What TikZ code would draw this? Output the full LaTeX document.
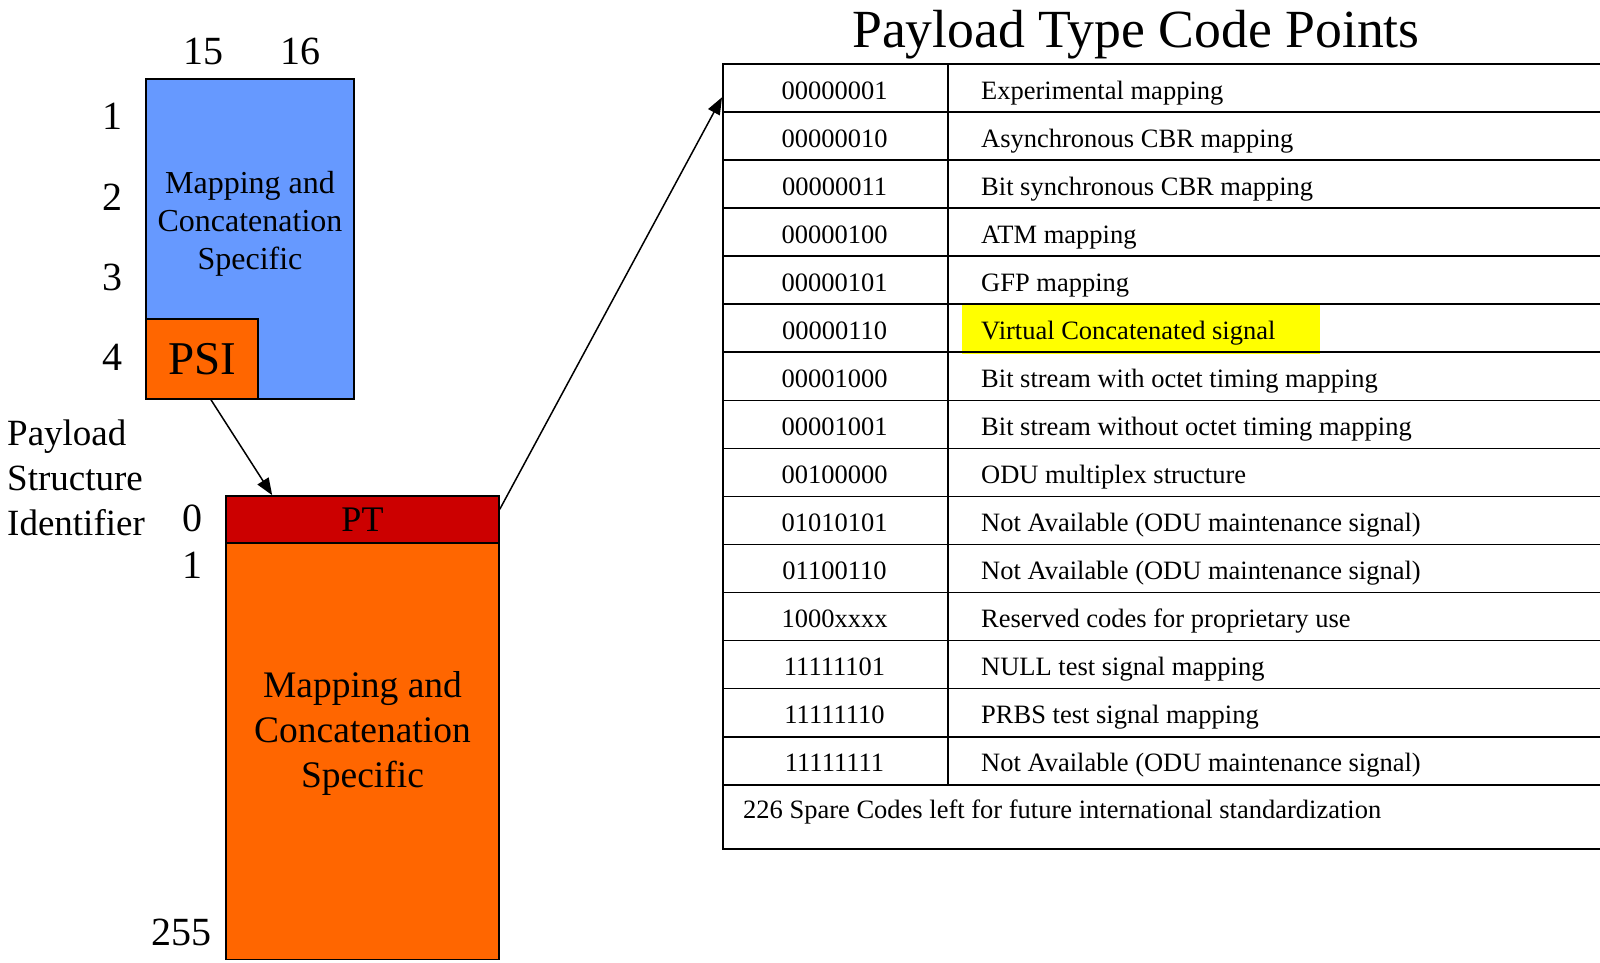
\documentclass[tikz,border=0pt]{standalone}
\usepackage{fontspec}
\setmainfont{Liberation Serif}
\usetikzlibrary{arrows.meta}
\definecolor{boxblue}{HTML}{6699FF}
\definecolor{boxorange}{HTML}{FF6600}
\definecolor{ptred}{HTML}{CC0000}
\definecolor{hlyellow}{HTML}{FFFF00}
\newcommand\myfs[2]{\fontsize{#1}{#2}\selectfont}
\begin{document}
\begin{tikzpicture}[x=1pt,y=-1pt,
  txt/.style={inner sep=0pt, text=black},
  box/.style={draw=black, line width=1.6pt, inner sep=0pt},
  cell/.style={draw=black, line width=1.8pt, inner sep=0pt, anchor=north west},
  num/.style={txt, anchor=base, font=\myfs{40}{48}},
  tab/.style={txt, font=\myfs{26.5}{32}},
  arr/.style={line width=1.5pt, -{Triangle[length=17pt,width=13pt]}}]
\useasboundingbox (0,0) rectangle (1600,963);
\clip (0,0) rectangle (1600,963);

% upper block
\node[box, fill=boxblue, minimum width=208pt, minimum height=320pt] (blue) at (250,239) {};
\node[txt, align=center, anchor=base, font=\myfs{32}{38}] (bluetxt) at (250,269) {Mapping and\\Concatenation\\Specific};
\node[box, fill=boxorange, minimum width=112pt, minimum height=80pt, font=\myfs{47}{56}] (psi) at (202,359) {PSI};

% lower block
\node[box, fill=ptred, minimum width=273pt, minimum height=47pt, font=\myfs{36}{43}] (pt) at (362.5,519.5) {PT};
\node[box, fill=boxorange, minimum width=273pt, minimum height=416.5pt] (body) at (362.5,751.25) {};
\node[txt, align=center, anchor=base, font=\myfs{37.5}{45}] (bodytxt) at (362.5,787.6) {Mapping and\\Concatenation\\Specific};

% numbers
\node[num] (n15) at (203,65) {15};
\node[num] (n16) at (300,65) {16};
\node[num] (r1) at (112,130) {1};
\node[num] (r2) at (112,210) {2};
\node[num] (r3) at (112,290) {3};
\node[num] (r4) at (112,370) {4};
\node[num] (b0) at (192,531) {0};
\node[num] (b1) at (192,578) {1};
\node[num] (b255) at (181,945) {255};

\node[txt, align=left, anchor=base west, font=\myfs{37}{45}] (psilabel) at (7,535) {Payload\\Structure\\Identifier};

% title
\node[txt, anchor=base, font=\myfs{53.7}{60}] (title) at (1136,48) {Payload Type Code Points};

% highlight
\node[fill=hlyellow, inner sep=0pt, minimum width=358pt, minimum height=50pt, anchor=north west] (hl) at (962,304) {};

% table
\foreach \c/\d [count=\i] in {00000001/Experimental mapping,
  00000010/Asynchronous CBR mapping,
  00000011/Bit synchronous CBR mapping,
  00000100/ATM mapping,
  00000101/GFP mapping,
  00000110/Virtual Concatenated signal,
  00001000/Bit stream with octet timing mapping,
  00001001/Bit stream without octet timing mapping,
  00100000/ODU multiplex structure,
  01010101/Not Available (ODU maintenance signal),
  01100110/Not Available (ODU maintenance signal),
  1000xxxx/Reserved codes for proprietary use,
  11111101/NULL test signal mapping,
  11111110/PRBS test signal mapping,
  11111111/Not Available (ODU maintenance signal)}{
  \pgfmathsetmacro\rtop{63.3+48.03*(\i-1)}
  \pgfmathsetmacro\rbase{\rtop+36}
  \node[cell, minimum width=225pt, minimum height=48.03pt] (k\i) at (722,\rtop) {};
  \node[cell, minimum width=700pt, minimum height=48.03pt] (d\i) at (947,\rtop) {};
  \node[tab, anchor=base] (kt\i) at (834.5,\rbase) {\c};
  \node[tab, anchor=base west] (dt\i) at (981,\rbase) {\d};
}
\node[cell, minimum width=925pt, minimum height=64.6pt] (spare) at (722,783.75) {};
\node[tab, anchor=base west] (sparetxt) at (743,818) {226 Spare Codes left for future international standardization};

% connectors
\draw[arr] ([xshift=9pt]psi.south) -- ([xshift=47pt]pt.north west);
\draw[arr] ([yshift=-14pt]pt.north east) -- ([yshift=-34pt]k1.north west);
\end{tikzpicture}
\end{document}
